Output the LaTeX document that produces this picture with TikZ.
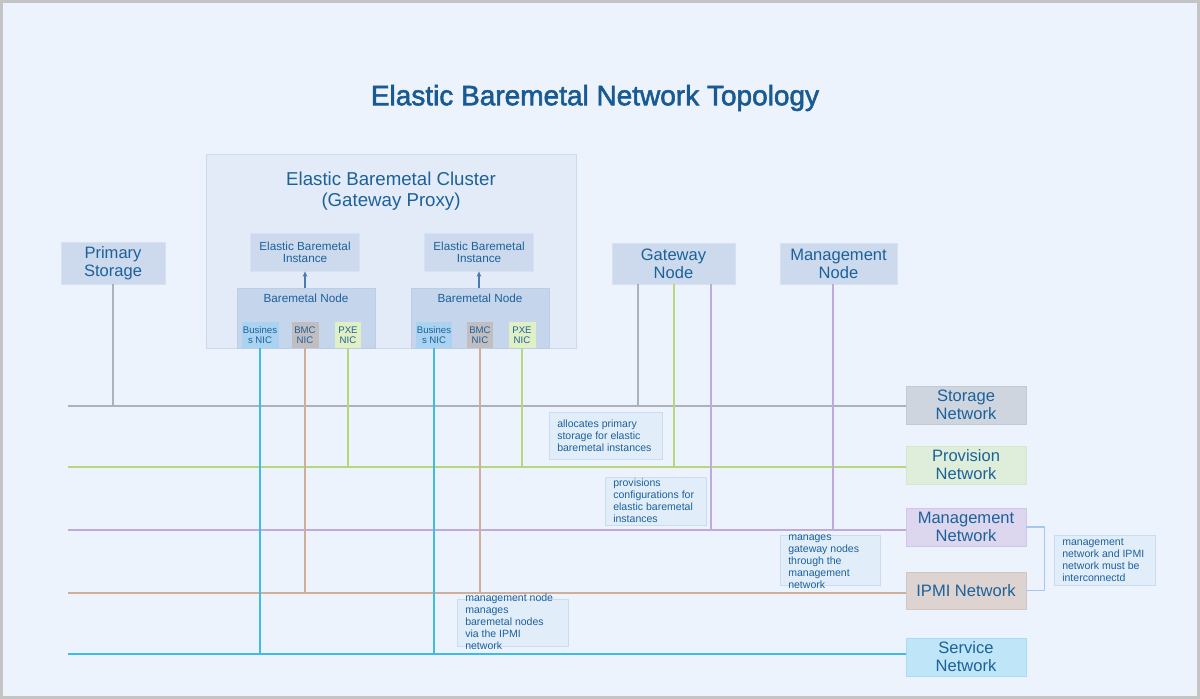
\documentclass[tikz,border=0pt]{standalone}
\usepackage{fontspec}
\setmainfont{Liberation Sans}
\newfontfamily\titlefont{Liberation Sans}[FakeBold=2]
\usetikzlibrary{calc,arrows.meta}
\definecolor{bg}{HTML}{EDF3FC}
\definecolor{frame}{HTML}{C4C4C4}
\definecolor{txt}{HTML}{1C6199}
\definecolor{ttl}{HTML}{195A92}
\definecolor{clfill}{HTML}{E2EBF7}
\definecolor{cldraw}{HTML}{CCDAEE}
\definecolor{infill}{HTML}{CDDAEE}
\definecolor{indraw}{HTML}{D6E1F1}
\definecolor{bnfill}{HTML}{C5D5EC}
\definecolor{bndraw}{HTML}{BCCDE6}
\definecolor{busfill}{HTML}{A9D3F0}
\definecolor{bmcfill}{HTML}{C2BDC0}
\definecolor{pxefill}{HTML}{E0EFC4}
\definecolor{snfill}{HTML}{CED5DF}
\definecolor{sndraw}{HTML}{C3CAD5}
\definecolor{pnfill}{HTML}{DFEEDB}
\definecolor{pndraw}{HTML}{D3E8CC}
\definecolor{mnfill}{HTML}{DCD6EF}
\definecolor{mndraw}{HTML}{CFC6E8}
\definecolor{ipfill}{HTML}{DDD3D0}
\definecolor{ipdraw}{HTML}{D2C6C2}
\definecolor{svfill}{HTML}{BEE5F8}
\definecolor{svdraw}{HTML}{A8DBF4}
\definecolor{lstor}{HTML}{ADB1BA}
\definecolor{lprov}{HTML}{B8D67E}
\definecolor{lmgmt}{HTML}{BFABDB}
\definecolor{lipmi}{HTML}{CFAE9A}
\definecolor{lserv}{HTML}{3DBBEA}
\definecolor{brk}{HTML}{A9C6EE}
\definecolor{notefill}{HTML}{E2EDFA}
\definecolor{notedraw}{HTML}{C9DCF2}
\definecolor{arr}{HTML}{4B79B3}
\tikzset{
  sz/.style 2 args={minimum width=#1*0.75pt, minimum height=#2*0.75pt},
  box/.style={rectangle, inner sep=0pt, align=center, text=txt, line width=0.7pt},
  big/.style={font=\fontsize{12.4}{13.5}\selectfont},
  mid/.style={font=\fontsize{8.8}{9}\selectfont},
  nicf/.style={font=\fontsize{7.2}{7.5}\selectfont},
  topbox/.style={box, big, fill=infill, draw=indraw},
  netbox/.style={box, big, sz={120}{38}},
  nicbox/.style={box, nicf, draw=none},
  notebox/.style={box, fill=notefill, draw=notedraw},
  notetext/.style={inner sep=0pt, align=left, text=txt, font=\fontsize{7.9}{9}\selectfont},
  wire/.style={line width=1.15pt},
}
\begin{document}
\begin{tikzpicture}[x=0.75pt,y=-0.75pt]
\useasboundingbox (0,0) rectangle (1200,699);
\fill[frame] (0,0) rectangle (1200,699);
\fill[bg] (3,3) rectangle (1197,696);

\node[text=ttl, font=\titlefont\fontsize{21}{24}\selectfont] (title) at (595,98) {Elastic Baremetal Network Topology};

% cluster
\node[box, fill=clfill, draw=cldraw, sz={370}{194}] (cluster) at (391,251) {};
\node[text=txt, align=center, font=\fontsize{14}{15.75}\selectfont, inner sep=0pt] (cltitle) at (391,191) {Elastic Baremetal Cluster\\(Gateway Proxy)};

\node[box, mid, fill=infill, draw=indraw, sz={109}{38}] (inst1) at (305,252) {Elastic Baremetal\\Instance};
\node[box, mid, fill=infill, draw=indraw, sz={109}{38}] (inst2) at (479,252) {Elastic Baremetal\\Instance};

\node[box, fill=bnfill, draw=bndraw, sz={138}{60}] (bn1) at (306,318) {};
\node[box, fill=bnfill, draw=bndraw, sz={138}{60}] (bn2) at (480,318) {};
\node[text=txt, mid, inner sep=0pt] (bn1t) at (306,298) {Baremetal Node};
\node[text=txt, mid, inner sep=0pt] (bn2t) at (480,298) {Baremetal Node};

\draw[arr, line width=0.9pt, -{Stealth[length=4pt,width=3.5pt]}] (inst1.south |- bn1.north) -- (inst1.south);
\draw[arr, line width=0.9pt, -{Stealth[length=4pt,width=3.5pt]}] (inst2.south |- bn2.north) -- (inst2.south);

\node[nicbox, fill=busfill, sz={37}{26}] (b1) at (260,335) {Busines\\s NIC};
\node[nicbox, fill=bmcfill, sz={27}{26}] (m1) at (305,335) {BMC\\NIC};
\node[nicbox, fill=pxefill, sz={26}{26}] (p1) at (348,335) {PXE\\NIC};
\node[nicbox, fill=busfill, sz={36}{26}] (b2) at (434,335) {Busines\\s NIC};
\node[nicbox, fill=bmcfill, sz={26}{26}] (m2) at (480,335) {BMC\\NIC};
\node[nicbox, fill=pxefill, sz={27}{26}] (p2) at (522,335) {PXE\\NIC};

% top boxes
\node[topbox, sz={104}{42}] (ps) at (113,263) {Primary\\Storage};
\node[topbox, sz={123}{41}] (gw) at (673.5,263.5) {Gateway\\Node};
\node[topbox, sz={117}{41}] (mg) at (838.5,263.5) {Management\\Node};

% network boxes
\node[netbox, fill=snfill, draw=sndraw] (sn) at (966,405) {Storage\\Network};
\node[netbox, fill=pnfill, draw=pndraw] (pn) at (966,465) {Provision\\Network};
\node[netbox, fill=mnfill, draw=mndraw] (mn) at (966,527) {Management\\Network};
\node[netbox, fill=ipfill, draw=ipdraw, sz={120}{37}] (ipmi) at (966,590.5) {IPMI Network};
\node[netbox, fill=svfill, draw=svdraw] (svc) at (966,657) {Service\\Network};

% line start coordinates
\coordinate (sL) at (68,406);
\coordinate (pL) at (68,467);
\coordinate (mL) at (68,530);
\coordinate (iL) at (68,593);
\coordinate (vL) at (68,654);

% horizontal lines
\draw[wire, lstor] (sL) -- (sL -| sn.west);
\draw[wire, lprov] (pL) -- (pL -| pn.west);
\draw[wire, lmgmt] (mL) -- (mL -| mn.west);
\draw[wire, lipmi] (iL) -- (iL -| ipmi.west);
\draw[line width=1.7pt, lserv] (vL) -- (vL -| svc.west);

% vertical drops
\draw[wire, lstor] (ps.south) -- (ps.south |- sL);
\draw[wire, lserv, line width=1.4pt] (b1.south) -- (b1.south |- vL);
\draw[wire, lserv, line width=1.4pt] (b2.south) -- (b2.south |- vL);
\draw[wire, lipmi] (m1.south) -- (m1.south |- iL);
\draw[wire, lipmi] (m2.south) -- (m2.south |- iL);
\draw[wire, lprov] (p1.south) -- (p1.south |- pL);
\draw[wire, lprov] (p2.south) -- (p2.south |- pL);
\path ($(gw.south)+(-35.5,0)$) coordinate (g1)
      ($(gw.south)+(0.5,0)$) coordinate (g2)
      ($(gw.south)+(37.5,0)$) coordinate (g3)
      ($(mg.south)+(-5.5,0)$) coordinate (g4);
\draw[wire, lstor] (g1) -- (g1 |- sL);
\draw[wire, lprov] (g2) -- (g2 |- pL);
\draw[wire, lmgmt] (g3) -- (g3 |- mL);
\draw[wire, lmgmt] (g4) -- (g4 |- mL);

% bracket
\draw[wire, brk] (mn.east) -- ++(18,0) |- (ipmi.east);

% notes
\node[notebox, sz={113}{47}] (n1) at (605.5,435.5) {};
\node[notetext, anchor=west] (n1t) at (557,435.5) {allocates primary\\storage for elastic\\baremetal instances};
\node[notebox, sz={101}{48}] (n2) at (655.5,501) {};
\node[notetext, anchor=west] (n2t) at (613,501) {provisions\\configurations for\\elastic baremetal\\instances};
\node[notebox, sz={100}{50}] (n3) at (830,560) {};
\node[notetext, anchor=west] (n3t) at (788,562) {manages\\gateway nodes\\through the\\management\\network};
\node[notebox, sz={101}{50}] (n4) at (1104.5,560) {};
\node[notetext, anchor=west] (n4t) at (1062,560) {management\\network and IPMI\\network must be\\interconnectd};
\node[notebox, sz={111}{47}] (n5) at (512.5,622.5) {};
\node[notetext, anchor=west] (n5t) at (465,622) {management node\\manages\\baremetal nodes\\via the IPMI\\network};
\end{tikzpicture}
\end{document}
